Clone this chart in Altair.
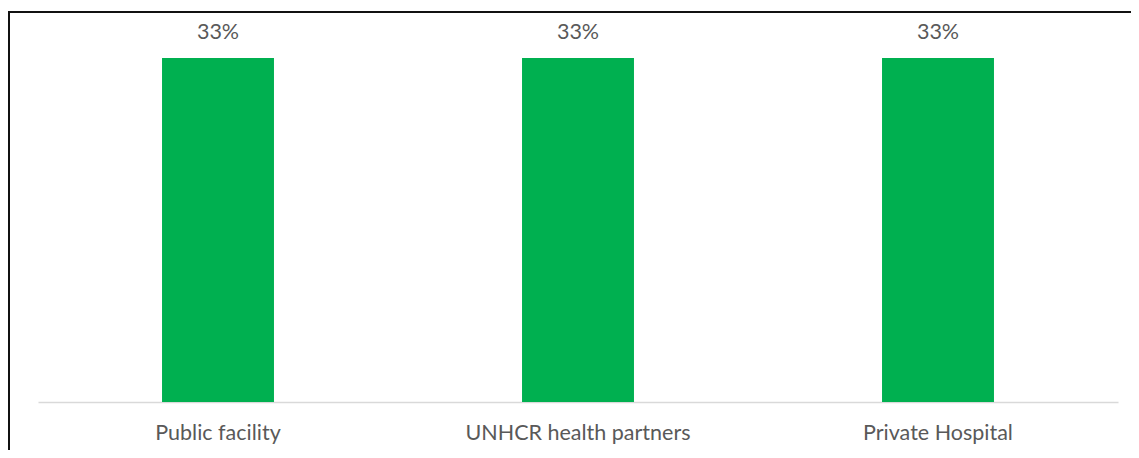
import altair as alt
import pandas as pd

categories = ["Public facility", "UNHCR health partners", "Private Hospital"]
values = [0.33, 0.33, 0.33]

df = pd.DataFrame({"category": categories, "value": values})

x = alt.X(
    "category:N", sort=categories, title=None,
    scale=alt.Scale(range=[30, 1110], paddingInner=0.689, paddingOuter=0.3445),
    axis=alt.Axis(labelAngle=0, ticks=False, domainColor="#d9d9d9", domainWidth=1.5,
                  labelFont="Lato", labelFontSize=21.5, labelColor="#595959",
                  labelPadding=20, labelLimit=0, grid=False),
)
y = alt.Y("value:Q", scale=alt.Scale(domain=[0, 0.33], range=[394, 50]), axis=None)

bars = alt.Chart(df).mark_bar(color="#00B050").encode(x=x, y=y)
text = alt.Chart(df).mark_text(dy=-25, font="Lato", fontSize=21.5, color="#595959").encode(
    x=x, y=y, text=alt.Text("value:Q", format=".0%")
)

frame = pd.DataFrame({"k": [0]})
top_rule = alt.Chart(frame).mark_rule(color="#111111", strokeWidth=2).encode(
    x=alt.value(0), x2=alt.value(1123), y=alt.value(4)
)
left_rule = alt.Chart(frame).mark_rule(color="#111111", strokeWidth=2).encode(
    x=alt.value(1), y=alt.value(3), y2=alt.value(442)
)

chart = alt.layer(bars, text, top_rule, left_rule).properties(
    width=1123, height=394,
    autosize=alt.AutoSizeParams(type="none"),
    padding={"left": 0, "top": 0, "right": 0, "bottom": 48},
).configure_view(stroke=None)

chart.save("out.html", embed_options={"renderer": "svg", "actions": False})
